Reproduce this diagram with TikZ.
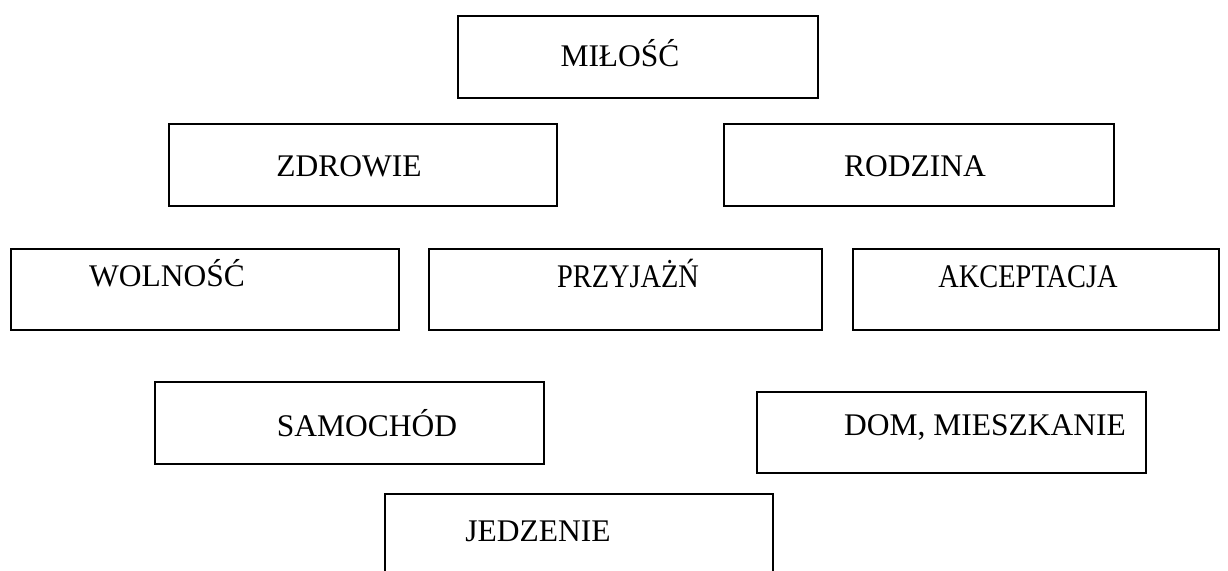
\documentclass[tikz,border=0pt]{standalone}
\usepackage{fontspec}
\setmainfont{Liberation Serif}
\newfontfamily\narrowfont[FakeStretch=0.86]{Liberation Serif}
\usepackage{tikz}
\tikzset{box/.style = {draw, line width=2pt, anchor=north west, inner sep=0pt, minimum height=82pt}}
\tikzset{word/.style = {anchor=base, inner sep=0pt, font=\fontsize{31.5}{38}\selectfont}}

\begin{document}
\begin{tikzpicture}[x=1pt,y=-1pt]
                    \clip (0,0) rectangle (1228,570);

                    \node[box, minimum width=360pt] (milosc) at (457,15) {};
                    \node[box, minimum width=388pt] (zdrowie) at (168,123) {};
                    \node[box, minimum width=390pt] (rodzina) at (723,123) {};
                    \node[box, minimum width=388pt, minimum height=81pt] (wolnosc) at (10,248) {};
                    \node[box, minimum width=393pt, minimum height=81pt] (przyjazn) at (428,248) {};
                    \node[box, minimum width=366pt, minimum height=81pt] (akceptacja) at (852,248) {};
                    \node[box, minimum width=389pt] (samochod) at (154,381) {};
                    \node[box, minimum width=389pt, minimum height=81pt] (dom) at (756,391) {};
                    \node[box, minimum width=388pt, minimum height=120pt] (jedzenie) at (384,493) {};

                    \node[word] (milosc-t) at (620,66) {MIŁOŚĆ};
                    \node[word] (zdrowie-t) at (349,176) {ZDROWIE};
                    \node[word] (rodzina-t) at (915,176) {RODZINA};
                    \node[word] (wolnosc-t) at (167,286) {WOLNOŚĆ};
                    \node[word, font=\fontsize{33}{38}\narrowfont] (przyjazn-t) at (628,287) {PRZYJAŻŃ};
                    \node[word, font=\fontsize{33}{38}\narrowfont] (akceptacja-t) at (1028,287) {AKCEPTACJA};
                    \node[word] (samochod-t) at (367,436) {SAMOCHÓD};
                    \node[word] (dom-t) at (985,435) {DOM, MIESZKANIE};
                    \node[word] (jedzenie-t) at (538,541) {JEDZENIE};
                \end{tikzpicture}
\end{document}
